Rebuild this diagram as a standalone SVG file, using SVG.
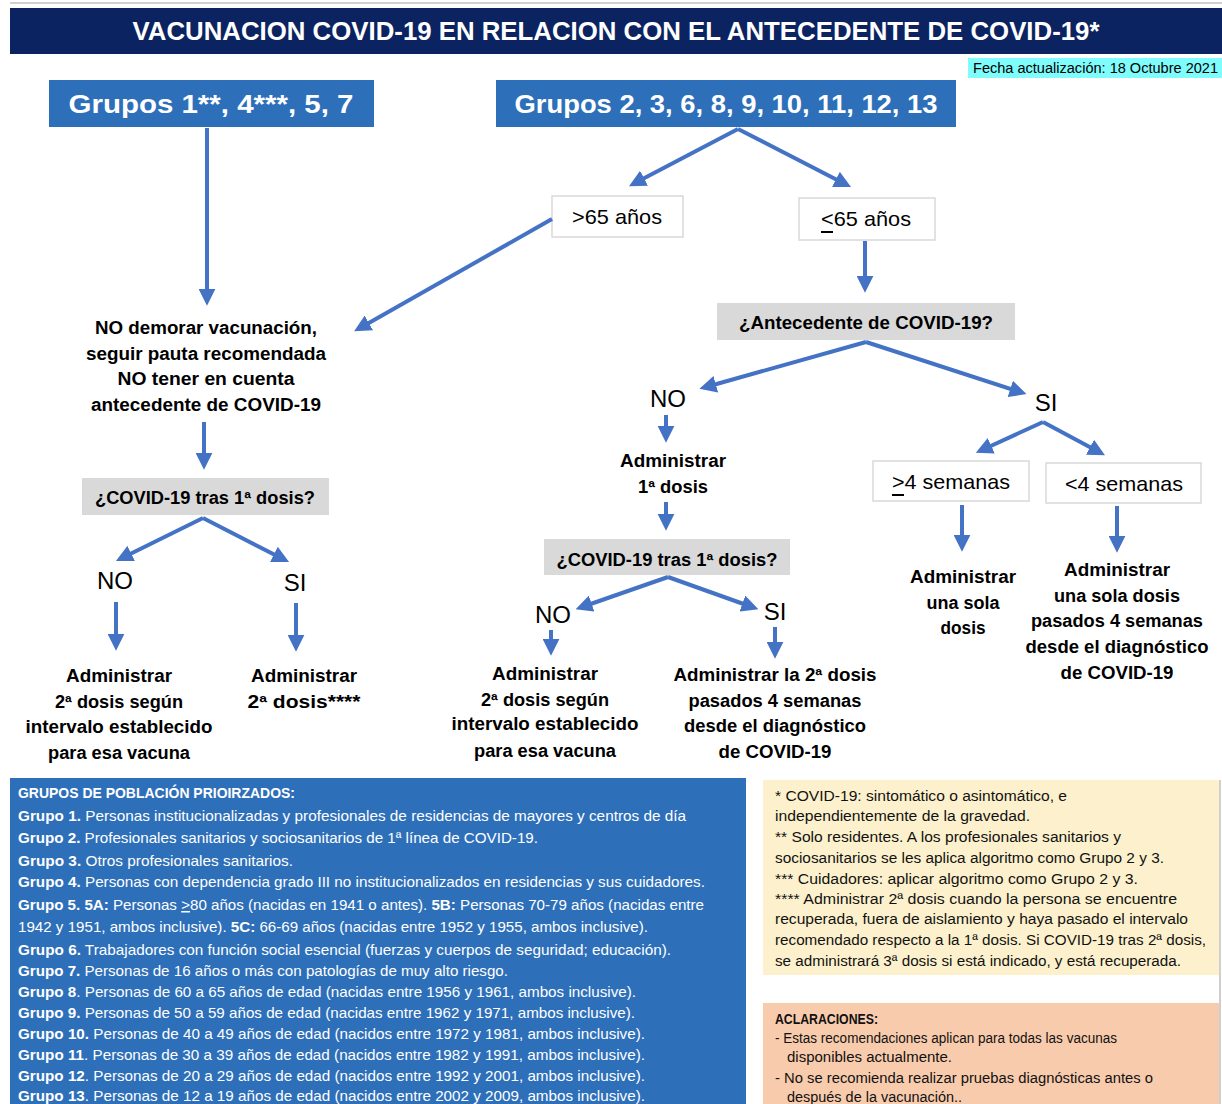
<svg xmlns="http://www.w3.org/2000/svg" width="1222" height="1104" viewBox="0 0 1222 1104">
<style>
text{font-family:"Liberation Sans","DejaVu Sans",sans-serif;fill:#000}
.t{fill:#fff;font-weight:bold}
.b{font-weight:bold;font-size:18px;text-anchor:middle}
.r{font-size:21px;text-anchor:middle}
.yn{font-size:24px;text-anchor:middle}
.q{font-weight:bold;font-size:18px;text-anchor:middle}
.gray{fill:#d9d9d9}
.wbox{fill:#fff;stroke:#d9d9d9;stroke-width:1.5}
.blue{fill:#2e6fba}
.bl{fill:#fff;font-size:15px}
.bl tspan.h{font-weight:bold}
.nt{font-size:14px;fill:#111}
.con line{stroke:#4472c4;stroke-width:4;marker-end:url(#ah)}
</style>
<defs>
<marker id="ah" viewBox="0 0 10 10" refX="6" refY="5" markerUnits="userSpaceOnUse" markerWidth="17" markerHeight="17" orient="auto">
<path d="M0,0 L10,5 L0,10 z" fill="#4472c4"/>
</marker>
</defs>
<rect width="1222" height="1104" fill="#fff"/>
<rect x="10" y="2" width="1212" height="2" fill="#d0d0d0"/>
<g id="title">
<rect x="10" y="8" width="1212" height="46" fill="#0b2360"/>
<text x="616" y="40" class="t" font-size="26" text-anchor="middle" textLength="967" lengthAdjust="spacingAndGlyphs">VACUNACION COVID-19 EN RELACION CON EL ANTECEDENTE DE COVID-19*</text>
</g>
<g id="fecha">
<rect x="968" y="58" width="254" height="20" fill="#7ffcfc"/>
<text x="1218" y="73" font-size="14" text-anchor="end" textLength="245" lengthAdjust="spacingAndGlyphs">Fecha actualización: 18 Octubre 2021</text>
</g>
<g id="grupos-a">
<rect x="49" y="80" width="325" height="47" class="blue"/>
<text x="211" y="113" class="t" font-size="26" text-anchor="middle" textLength="285" lengthAdjust="spacingAndGlyphs">Grupos 1**, 4***, 5, 7</text>
</g>
<g id="grupos-b">
<rect x="496" y="80" width="460" height="47" class="blue"/>
<text x="726" y="113" class="t" font-size="26" text-anchor="middle" textLength="423" lengthAdjust="spacingAndGlyphs">Grupos 2, 3, 6, 8, 9, 10, 11, 12, 13</text>
</g>
<g id="mayor65">
<rect x="552" y="196" width="131" height="41" class="wbox"/>
<text x="617" y="224" class="r" textLength="90" lengthAdjust="spacingAndGlyphs">&gt;65 años</text>
</g>
<g id="menor65">
<rect x="799" y="198" width="136" height="42" class="wbox"/>
<text x="866" y="226" class="r" textLength="90" lengthAdjust="spacingAndGlyphs">&lt;65 años</text>
<rect x="821" y="231" width="12" height="2" fill="#000"/>
</g>
<g id="no-demorar">
<text x="206" y="334" class="b" textLength="222" lengthAdjust="spacingAndGlyphs">NO demorar vacunación,</text>
<text x="206" y="360" class="b" textLength="240" lengthAdjust="spacingAndGlyphs">seguir pauta recomendada</text>
<text x="206" y="385" class="b" textLength="177" lengthAdjust="spacingAndGlyphs">NO tener en cuenta</text>
<text x="206" y="411" class="b" textLength="230" lengthAdjust="spacingAndGlyphs">antecedente de COVID-19</text>
</g>
<g id="antecedente">
<rect x="717" y="303" width="298" height="37" class="gray"/>
<text x="866" y="329" class="q" textLength="254" lengthAdjust="spacingAndGlyphs">¿Antecedente de COVID-19?</text>
</g>
<g id="no-antecedente"><text x="668" y="407" class="yn">NO</text></g>
<g id="si-antecedente"><text x="1046" y="411" class="yn">SI</text></g>
<g id="admin-1dosis">
<text x="673" y="467" class="b" textLength="106" lengthAdjust="spacingAndGlyphs">Administrar</text>
<text x="673" y="493" class="b" textLength="70" lengthAdjust="spacingAndGlyphs">1ª dosis</text>
</g>
<g id="covid-tras-1-left">
<rect x="82" y="478" width="247" height="37" class="gray"/>
<text x="205" y="504" class="q" textLength="220" lengthAdjust="spacingAndGlyphs">¿COVID-19 tras 1ª dosis?</text>
</g>
<g id="no-left"><text x="115" y="589" class="yn">NO</text></g>
<g id="si-left"><text x="295" y="591" class="yn">SI</text></g>
<g id="admin-left-no">
<text x="119" y="682" class="b" textLength="106" lengthAdjust="spacingAndGlyphs">Administrar</text>
<text x="119" y="708" class="b" textLength="128" lengthAdjust="spacingAndGlyphs">2ª dosis según</text>
<text x="119" y="733" class="b" textLength="187" lengthAdjust="spacingAndGlyphs">intervalo establecido</text>
<text x="119" y="759" class="b" textLength="142" lengthAdjust="spacingAndGlyphs">para esa vacuna</text>
</g>
<g id="admin-left-si">
<text x="304" y="682" class="b" textLength="106" lengthAdjust="spacingAndGlyphs">Administrar</text>
<text x="304" y="708" class="b" textLength="113" lengthAdjust="spacingAndGlyphs">2ª dosis****</text>
</g>
<g id="covid-tras-1-mid">
<rect x="544" y="539" width="246" height="36" class="gray"/>
<text x="667" y="566" class="q" textLength="221" lengthAdjust="spacingAndGlyphs">¿COVID-19 tras 1ª dosis?</text>
</g>
<g id="no-mid"><text x="553" y="623" class="yn">NO</text></g>
<g id="si-mid"><text x="775" y="620" class="yn">SI</text></g>
<g id="admin-mid-no">
<text x="545" y="680" class="b" textLength="106" lengthAdjust="spacingAndGlyphs">Administrar</text>
<text x="545" y="706" class="b" textLength="128" lengthAdjust="spacingAndGlyphs">2ª dosis según</text>
<text x="545" y="730" class="b" textLength="187" lengthAdjust="spacingAndGlyphs">intervalo establecido</text>
<text x="545" y="757" class="b" textLength="142" lengthAdjust="spacingAndGlyphs">para esa vacuna</text>
</g>
<g id="admin-mid-si">
<text x="775" y="681" class="b" textLength="203" lengthAdjust="spacingAndGlyphs">Administrar la 2ª dosis</text>
<text x="775" y="707" class="b" textLength="173" lengthAdjust="spacingAndGlyphs">pasados 4 semanas</text>
<text x="775" y="732" class="b" textLength="182" lengthAdjust="spacingAndGlyphs">desde el diagnóstico</text>
<text x="775" y="758" class="b" textLength="113" lengthAdjust="spacingAndGlyphs">de COVID-19</text>
</g>
<g id="mas4">
<rect x="873" y="461" width="156" height="40" class="wbox"/>
<text x="951" y="489" class="r" textLength="118" lengthAdjust="spacingAndGlyphs">&gt;4 semanas</text>
<rect x="892" y="494" width="12" height="2" fill="#000"/>
</g>
<g id="menos4">
<rect x="1046" y="463" width="155" height="40" class="wbox"/>
<text x="1124" y="491" class="r" textLength="118" lengthAdjust="spacingAndGlyphs">&lt;4 semanas</text>
</g>
<g id="admin-mas4">
<text x="963" y="583" class="b" textLength="106" lengthAdjust="spacingAndGlyphs">Administrar</text>
<text x="963" y="609" class="b" textLength="73" lengthAdjust="spacingAndGlyphs">una sola</text>
<text x="963" y="634" class="b" textLength="45" lengthAdjust="spacingAndGlyphs">dosis</text>
</g>
<g id="admin-menos4">
<text x="1117" y="576" class="b" textLength="106" lengthAdjust="spacingAndGlyphs">Administrar</text>
<text x="1117" y="602" class="b" textLength="126" lengthAdjust="spacingAndGlyphs">una sola dosis</text>
<text x="1117" y="627" class="b" textLength="172" lengthAdjust="spacingAndGlyphs">pasados 4 semanas</text>
<text x="1117" y="653" class="b" textLength="183" lengthAdjust="spacingAndGlyphs">desde el diagnóstico</text>
<text x="1117" y="679" class="b" textLength="113" lengthAdjust="spacingAndGlyphs">de COVID-19</text>
</g>
<g id="connectors" class="con">
<line x1="207" y1="128" x2="207" y2="299"/>
<line x1="738" y1="129" x2="635" y2="183"/>
<line x1="738" y1="129" x2="845" y2="184"/>
<line x1="552" y1="219" x2="360" y2="328"/>
<line x1="865" y1="241" x2="865" y2="286"/>
<line x1="866" y1="342" x2="706" y2="387"/>
<line x1="866" y1="342" x2="1020" y2="392"/>
<line x1="666" y1="415" x2="666" y2="436"/>
<line x1="666" y1="502" x2="666" y2="524"/>
<line x1="204" y1="422" x2="204" y2="463"/>
<line x1="203" y1="518" x2="122" y2="558"/>
<line x1="203" y1="518" x2="283" y2="559"/>
<line x1="116" y1="602" x2="116" y2="644"/>
<line x1="296" y1="603" x2="296" y2="645"/>
<line x1="668" y1="577" x2="582" y2="607"/>
<line x1="668" y1="577" x2="752" y2="607"/>
<line x1="551" y1="630" x2="551" y2="649"/>
<line x1="775" y1="627" x2="775" y2="652"/>
<line x1="1043" y1="422" x2="982" y2="450"/>
<line x1="1043" y1="422" x2="1099" y2="452"/>
<line x1="962" y1="505" x2="962" y2="545"/>
<line x1="1117" y1="506" x2="1117" y2="546"/>
</g>
<g id="grupos-poblacion">
<rect x="10" y="778" width="736" height="326" class="blue"/>
<text class="bl" x="18" y="798" font-weight="bold" textLength="277" lengthAdjust="spacingAndGlyphs">GRUPOS DE POBLACIÓN PRIOIRZADOS:</text>
<text class="bl" x="18" y="821" textLength="668" lengthAdjust="spacingAndGlyphs"><tspan class="h">Grupo 1.</tspan> Personas institucionalizadas y profesionales de residencias de mayores y centros de día</text>
<text class="bl" x="18" y="843" textLength="520" lengthAdjust="spacingAndGlyphs"><tspan class="h">Grupo 2.</tspan> Profesionales sanitarios y sociosanitarios de 1ª línea de COVID-19.</text>
<text class="bl" x="18" y="866" textLength="275" lengthAdjust="spacingAndGlyphs"><tspan class="h">Grupo 3.</tspan> Otros profesionales sanitarios.</text>
<text class="bl" x="18" y="887" textLength="687" lengthAdjust="spacingAndGlyphs"><tspan class="h">Grupo 4.</tspan> Personas con dependencia grado III no institucionalizados en residencias y sus cuidadores.</text>
<text class="bl" x="18" y="910" textLength="686" lengthAdjust="spacingAndGlyphs"><tspan class="h">Grupo 5. 5A:</tspan> Personas <tspan text-decoration="underline">&gt;</tspan>80 años (nacidas en 1941 o antes). <tspan class="h">5B:</tspan> Personas 70-79 años (nacidas entre</text>
<text class="bl" x="18" y="932" textLength="630" lengthAdjust="spacingAndGlyphs">1942 y 1951, ambos inclusive). <tspan class="h">5C:</tspan> 66-69 años (nacidas entre 1952 y 1955, ambos inclusive).</text>
<text class="bl" x="18" y="955" textLength="653" lengthAdjust="spacingAndGlyphs"><tspan class="h">Grupo 6.</tspan> Trabajadores con función social esencial (fuerzas y cuerpos de seguridad; educación).</text>
<text class="bl" x="18" y="976" textLength="490" lengthAdjust="spacingAndGlyphs"><tspan class="h">Grupo 7.</tspan> Personas de 16 años o más con patologías de muy alto riesgo.</text>
<text class="bl" x="18" y="997" textLength="618" lengthAdjust="spacingAndGlyphs"><tspan class="h">Grupo 8</tspan>. Personas de 60 a 65 años de edad (nacidas entre 1956 y 1961, ambos inclusive).</text>
<text class="bl" x="18" y="1018" textLength="617" lengthAdjust="spacingAndGlyphs"><tspan class="h">Grupo 9.</tspan> Personas de 50 a 59 años de edad (nacidas entre 1962 y 1971, ambos inclusive).</text>
<text class="bl" x="18" y="1039" textLength="627" lengthAdjust="spacingAndGlyphs"><tspan class="h">Grupo 10.</tspan> Personas de 40 a 49 años de edad (nacidos entre 1972 y 1981, ambos inclusive).</text>
<text class="bl" x="18" y="1060" textLength="627" lengthAdjust="spacingAndGlyphs"><tspan class="h">Grupo 11</tspan>. Personas de 30 a 39 años de edad (nacidos entre 1982 y 1991, ambos inclusive).</text>
<text class="bl" x="18" y="1081" textLength="627" lengthAdjust="spacingAndGlyphs"><tspan class="h">Grupo 12</tspan>. Personas de 20 a 29 años de edad (nacidos entre 1992 y 2001, ambos inclusive).</text>
<text class="bl" x="18" y="1101" textLength="627" lengthAdjust="spacingAndGlyphs"><tspan class="h">Grupo 13</tspan>. Personas de 12 a 19 años de edad (nacidos entre 2002 y 2009, ambos inclusive).</text>
</g>
<g id="notas">
<rect x="763" y="780" width="456" height="195" fill="#fdf1cd"/>
<text class="nt" x="775" y="801" textLength="292" lengthAdjust="spacingAndGlyphs">* COVID-19: sintomático o asintomático, e</text>
<text class="nt" x="775" y="821" textLength="255" lengthAdjust="spacingAndGlyphs">independientemente de la gravedad.</text>
<text class="nt" x="775" y="842" textLength="346" lengthAdjust="spacingAndGlyphs">** Solo residentes. A los profesionales sanitarios y</text>
<text class="nt" x="775" y="863" textLength="389" lengthAdjust="spacingAndGlyphs">sociosanitarios se les aplica algoritmo como Grupo 2 y 3.</text>
<text class="nt" x="775" y="884" textLength="363" lengthAdjust="spacingAndGlyphs">*** Cuidadores: aplicar algoritmo como Grupo 2 y 3.</text>
<text class="nt" x="775" y="904" textLength="402" lengthAdjust="spacingAndGlyphs">**** Administrar 2ª dosis cuando la persona se encuentre</text>
<text class="nt" x="775" y="924" textLength="413" lengthAdjust="spacingAndGlyphs">recuperada, fuera de aislamiento y haya pasado el intervalo</text>
<text class="nt" x="775" y="945" textLength="431" lengthAdjust="spacingAndGlyphs">recomendado respecto a la 1ª dosis. Si COVID-19 tras 2ª dosis,</text>
<text class="nt" x="775" y="966" textLength="406" lengthAdjust="spacingAndGlyphs">se administrará 3ª dosis si está indicado, y está recuperada.</text>
</g>
<g id="aclaraciones">
<rect x="763" y="1003" width="456" height="101" fill="#f8cbad"/>
<text class="nt" x="775" y="1024" font-weight="bold" textLength="103" lengthAdjust="spacingAndGlyphs">ACLARACIONES:</text>
<text class="nt" x="775" y="1043" textLength="342" lengthAdjust="spacingAndGlyphs">-  Estas recomendaciones aplican para todas las vacunas</text>
<text class="nt" x="787" y="1062" textLength="165" lengthAdjust="spacingAndGlyphs">disponibles actualmente.</text>
<text class="nt" x="775" y="1083" textLength="378" lengthAdjust="spacingAndGlyphs">-  No se recomienda realizar pruebas diagnósticas antes o</text>
<text class="nt" x="787" y="1102" textLength="175" lengthAdjust="spacingAndGlyphs">después de la vacunación..</text>
</g>
<rect x="1219" y="780" width="2" height="324" fill="#cfcfcf"/>
</svg>
